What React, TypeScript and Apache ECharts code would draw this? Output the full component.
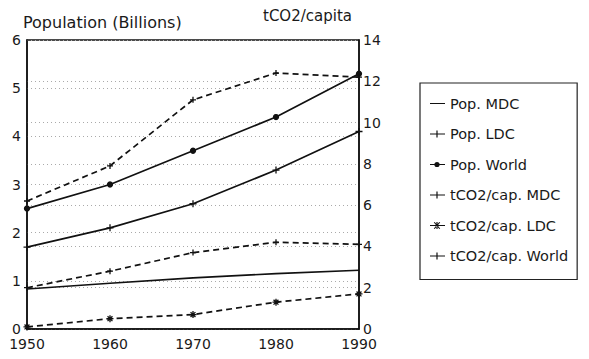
import React, { useEffect, useRef } from "react";
import * as echarts from "echarts";

const years = ["1950", "1960", "1970", "1980", "1990"];
const popMDC = [0.83, 0.95, 1.06, 1.15, 1.22];
const popLDC = [1.7, 2.1, 2.6, 3.3, 4.1];
const popWorld = [2.5, 3.0, 3.7, 4.4, 5.3];
const co2MDC = [6.2, 7.9, 11.1, 12.4, 12.2];
const co2LDC = [0.1, 0.5, 0.7, 1.3, 1.7];
const co2World = [2.0, 2.8, 3.7, 4.2, 4.1];
const legendNames = [
  "Pop. MDC",
  "Pop. LDC",
  "Pop. World",
  "tCO2/cap. MDC",
  "tCO2/cap. LDC",
  "tCO2/cap. World",
];

const FONT = "DejaVu Sans";
const PLUS = "path://M0,5H10M5,0V10";
const STAR = "path://M0,5H10M5,0V10M1.5,1.5L8.5,8.5M8.5,1.5L1.5,8.5";

// legend icons (16 x 10 box, corners pinned with invisible specks)
const BOX = "M0,0H0.01V0.01H0Z M16,10H15.99V9.99H16Z ";
const LINE = "M1,4.4H16V5.6H1Z ";
const VBAR = "M7.4,1.5H8.6V8.5H7.4Z ";
const DOT = "M10.6,5A2.6,2.6 0 1 1 5.4,5A2.6,2.6 0 1 1 10.6,5Z ";
const DIAG = "M4.8,2.0L5.7,1.4L11.2,8.0L10.3,8.6Z M11.2,2.0L10.3,1.4L4.8,8.0L5.7,8.6Z ";
const icons = [
  "path://" + BOX + LINE,
  "path://" + BOX + LINE + VBAR,
  "path://" + BOX + LINE + DOT,
  "path://" + BOX + LINE + VBAR,
  "path://" + BOX + LINE + VBAR + DIAG,
  "path://" + BOX + LINE + VBAR,
];

function mk(name: string, data: number[], yAxisIndex: number, dashed: boolean, symbol: string, size: number) {
  return {
    name,
    type: "line",
    yAxisIndex,
    data,
    symbol,
    symbolSize: size,
    showSymbol: symbol !== "none",
    lineStyle: { color: "#111", width: 1.7, type: dashed ? [6, 4] : "solid" },
    itemStyle: { color: "#111", borderColor: "#111", borderWidth: 1.3 },
  };
}

export default function App() {
  const ref = useRef<HTMLDivElement>(null);
  useEffect(() => {
    const chart = echarts.init(ref.current!, null, { renderer: "svg" });
    chart.setOption({
      animation: false,
      backgroundColor: "#fff",
      textStyle: { fontFamily: FONT },
      grid: {
        left: 27,
        right: 230,
        top: 40,
        bottom: 30,
        show: true,
        borderColor: "#111",
        borderWidth: 1.5,
      },
      xAxis: {
        type: "category",
        data: years,
        boundaryGap: false,
        axisLine: { lineStyle: { color: "#111", width: 1.5 } },
        axisTick: { show: false },
        axisLabel: { color: "#1a1a1a", fontSize: 14, fontFamily: FONT, margin: 8 },
        splitLine: { show: false },
      },
      yAxis: [
        {
          type: "value",
          min: 0,
          max: 6,
          interval: 1,
          axisLine: { show: true, lineStyle: { color: "#111", width: 1.5 } },
          axisTick: { show: false },
          axisLabel: { color: "#1a1a1a", fontSize: 14, fontFamily: FONT, margin: 6 },
          splitLine: { show: true, lineStyle: { color: "#aaa", type: [1, 3], width: 1 } },
        },
        {
          type: "value",
          min: 0,
          max: 14,
          interval: 2,
          position: "right",
          axisLine: { show: true, lineStyle: { color: "#111", width: 1.5 } },
          axisTick: { show: false },
          axisLabel: { color: "#1a1a1a", fontSize: 14, fontFamily: FONT, margin: 4 },
          splitLine: { show: true, lineStyle: { color: "#aaa", type: [1, 3], width: 1 } },
        },
      ],
      legend: {
        orient: "vertical",
        left: 420,
        top: 83,
        padding: [12, 9, 15, 9],
        itemGap: 13.5,
        itemWidth: 16,
        itemHeight: 10,
        borderColor: "#222",
        borderWidth: 1.2,
        textStyle: { color: "#1a1a1a", fontSize: 14.5, fontFamily: FONT, lineHeight: 17 },
        data: legendNames.map((n, i) => ({
          name: n,
          icon: icons[i],
          itemStyle: { color: "#111", borderWidth: 0 },
        })),
      },
      graphic: [
        {
          type: "text",
          left: 23,
          top: 14,
          style: { text: "Population (Billions)", fill: "#1a1a1a", fontSize: 16, fontFamily: FONT },
        },
        {
          type: "text",
          left: 263,
          top: 8,
          style: { text: "tCO2/capita", fill: "#1a1a1a", fontSize: 15, fontFamily: FONT },
        },
      ],
      series: [
        mk("Pop. MDC", popMDC, 0, false, "none", 0),
        mk("Pop. LDC", popLDC, 0, false, PLUS, 7),
        mk("Pop. World", popWorld, 0, false, "circle", 5),
        mk("tCO2/cap. MDC", co2MDC, 1, true, PLUS, 6),
        mk("tCO2/cap. LDC", co2LDC, 1, true, STAR, 7),
        mk("tCO2/cap. World", co2World, 1, true, PLUS, 6),
      ],
    });
    return () => chart.dispose();
  }, []);
  return <div ref={ref} style={{ width: 589, height: 359, position: "absolute", left: 0, top: 0 }} />;
}
